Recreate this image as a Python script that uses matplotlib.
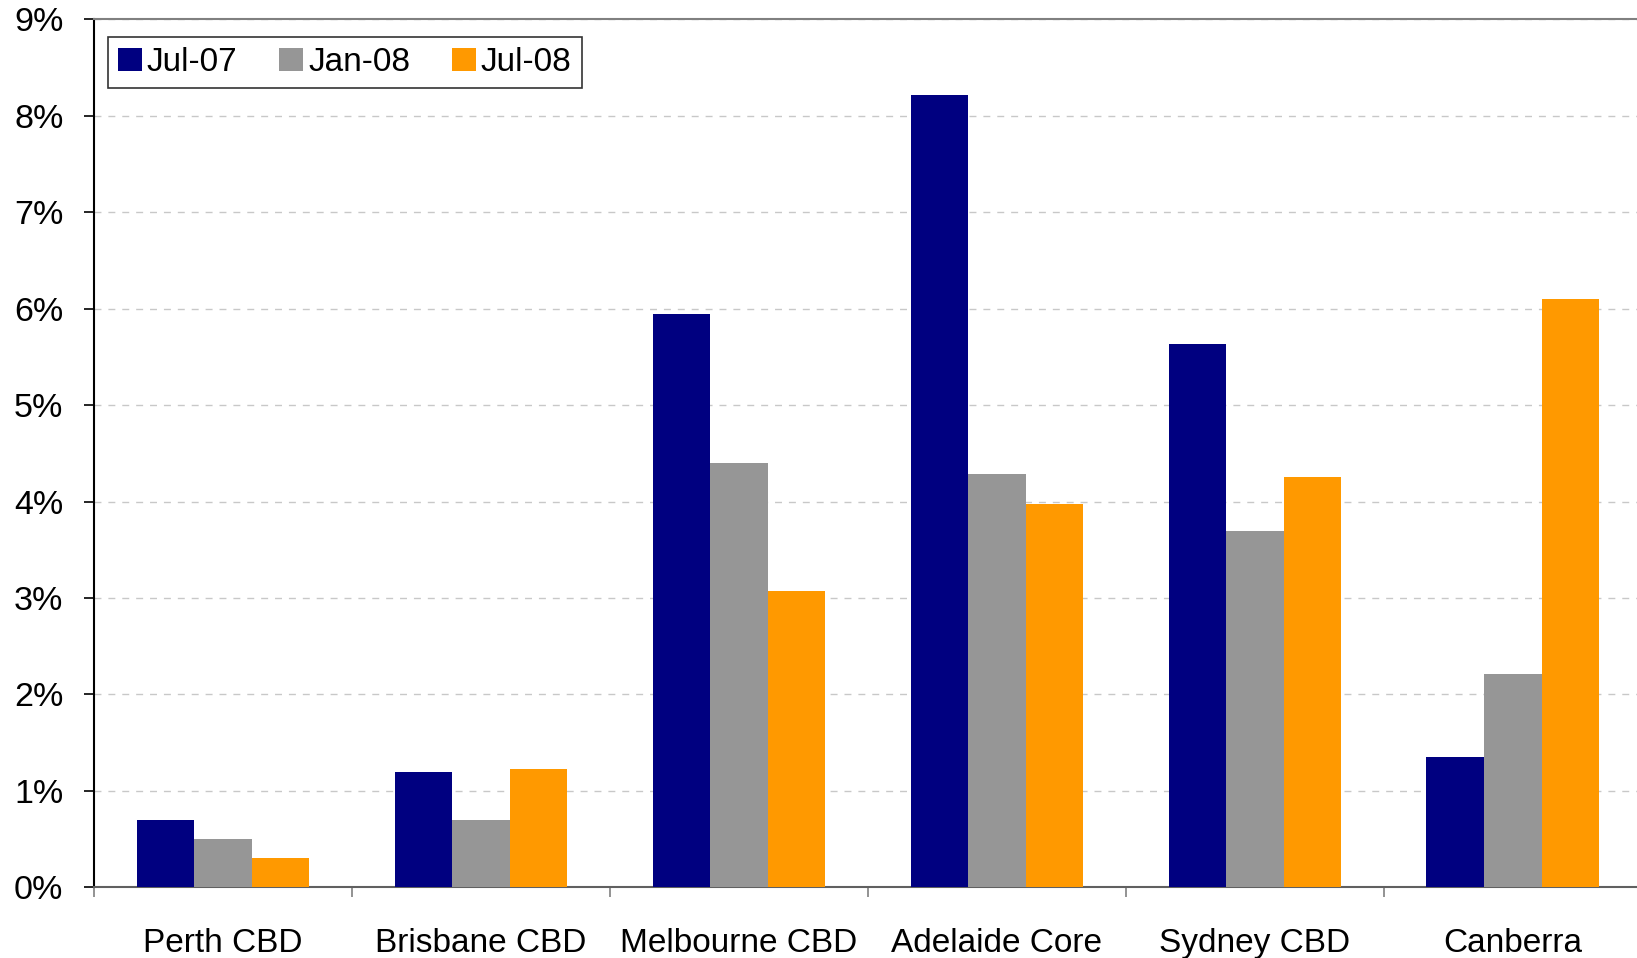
import numpy as np
import matplotlib
matplotlib.use("Agg")
import matplotlib.pyplot as plt
from matplotlib.ticker import FixedLocator, NullFormatter

plt.rcParams['font.family'] = ['Liberation Sans', 'DejaVu Sans']

regions = ["Perth CBD", "Brisbane CBD", "Melbourne CBD", "Adelaide Core", "Sydney CBD", "Canberra"]
series = ["Jul-07", "Jan-08", "Jul-08"]
jul07 = [0.70, 1.20, 5.94, 8.21, 5.63, 1.35]
jan08 = [0.50, 0.70, 4.40, 4.29, 3.69, 2.21]
jul08 = [0.30, 1.23, 3.07, 3.97, 4.25, 6.10]
colors = ["#000080", "#969696", "#FF9900"]

fig = plt.figure(figsize=(16.37, 9.58), dpi=100)
ax = fig.add_axes([0.0574, 0.0737, 0.9455, 0.9063])

x = np.arange(len(regions))
w = 0.223
for i, (vals, name) in enumerate(zip([jul07, jan08, jul08], series)):
    ax.bar(x + (i - 1) * w, vals, width=w, color=colors[i], label=name, zorder=3)

ax.set_xlim(-0.5, len(regions) - 0.5)
ax.set_ylim(0, 9)
ax.set_yticks(range(0, 10))
ax.set_yticklabels([f"{v}%" for v in range(0, 10)], fontsize=24.5)
ax.yaxis.grid(True, linestyle=(0, (5, 5)), color="#c8c8c8", linewidth=1, zorder=0)

# category boundaries as major ticks, labels on minor ticks
ax.xaxis.set_major_locator(FixedLocator(np.arange(-0.5, len(regions), 1.0)))
ax.xaxis.set_major_formatter(NullFormatter())
ax.xaxis.set_minor_locator(FixedLocator(x))
ax.set_xticklabels(regions, minor=True, fontsize=24)
ax.tick_params(axis='x', which='major', length=7, width=1.2, color="#808080", direction='out')
ax.tick_params(axis='x', which='minor', length=0, pad=29)
ax.tick_params(axis='y', length=7, width=1.2, direction='out', pad=15)

ax.spines['right'].set_visible(False)
ax.spines['top'].set_color("#808080")
ax.spines['top'].set_linewidth(1.5)
ax.spines['bottom'].set_color("#606060")
ax.spines['bottom'].set_linewidth(1.5)
ax.spines['left'].set_color("black")
ax.spines['left'].set_linewidth(1.5)

leg = ax.legend(loc='upper left', bbox_to_anchor=(0.009, 0.979), ncol=3, fontsize=24,
                frameon=True, fancybox=False, edgecolor="black", handlelength=0.72,
                handleheight=0.7, handletextpad=0.15, columnspacing=1.25,
                borderpad=0.3, borderaxespad=0)
leg.get_frame().set_linewidth(1.2)

fig.savefig("out.png", dpi=100)
